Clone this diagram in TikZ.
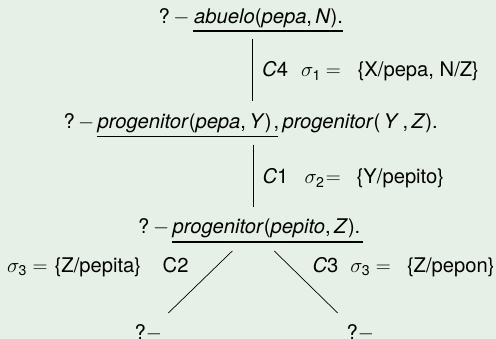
\documentclass[tikz,border=0pt]{standalone}
\usepackage{amsmath}
\usepackage{fontspec}
\setmainfont{TeX Gyre Heros}
\definecolor{bgc}{RGB}{230,240,230}
\begin{document}
\begin{tikzpicture}[x=1pt,y=-1pt,
  txt/.style={inner sep=0pt,anchor=base west,font=\fontsize{20.2}{24}\selectfont},
  eqs/.style={txt,anchor=base},
  uline/.style={line width=1.6pt},
  conn/.style={line width=0.8pt}]
\fill[bgc] (0,0) rectangle (496,339);
\useasboundingbox (0,0) rectangle (496,339);
% line 1
\node[txt] (p1) at (158.5,23.5) {?};
\node[eqs] (m1) at (181.5,23.5) {$-$};
\node[txt] (u1) at (194,23.5) {\textit{abuelo}(\textit{pepa},\,\textit{N}).};
\draw[uline] (192.7,31) coordinate (ul1) -- (342.7,31) coordinate (ur1);
% connector 1
\coordinate (a1) at (252.3,39);
\coordinate (b1) at (252.3,101);
\draw[conn] (a1) -- (b1);
\node[txt] (c4) at (262,77) {\textit{C}4};
\node[txt] (s4) at (301,77) {$\sigma_{\text{1}}$};
\node[eqs] (e4) at (333.3,77) {$=$};
\node[txt] (v4) at (357.5,77) {\{X/pepa, N/Z\}};
% line 2
\node[txt] (p2) at (63.5,128.3) {?};
\node[eqs] (m2) at (86.2,128.3) {$-$};
\node[txt] (u2) at (97.5,128.3) {\textit{progenitor}(\textit{pepa},\,\textit{Y})};
\node[txt] (s2) at ([xshift=1.5pt]u2.base east) {,\,\textit{progenitor}(\,\textit{Y}\,,\,\textit{Z}).};
\draw[uline] (97,136.7) coordinate (ul2) -- (278,136.7) coordinate (ur2);
% connector 2
\coordinate (a2) at (253.3,145);
\coordinate (b2) at (253.3,207);
\draw[conn] (a2) -- (b2);
\node[txt] (c1) at (262.3,184) {\textit{C}1};
\node[txt] (s1) at (304.3,184) {$\sigma_{\text{2}}$};
\node[eqs] (e1) at (333.3,184) {$=$};
\node[txt] (v1) at (356.5,184) {\{Y/pepito\}};
% line 3
\node[txt] (p3) at (137.8,234) {?};
\node[eqs] (m3) at (161.2,234) {$-$};
\node[txt] (u3) at (172.5,234) {\textit{progenitor}(\textit{pepito},\,\textit{Z}).};
\draw[uline] (171.7,242.3) coordinate (ul3) -- (363,242.3) coordinate (ur3);
% branches
\coordinate (a3) at (232.3,251);
\coordinate (b3) at (168.3,313);
\coordinate (a4) at (274.3,251);
\coordinate (b4) at (337.7,313);
\draw[conn,line width=0.7pt] (a3) -- (b3);
\draw[conn,line width=0.7pt] (a4) -- (b4);
\node[txt] (s3l) at (6.8,272.3) {$\sigma_{\text{3}}$};
\node[eqs] (e3l) at (40,272.3) {$=$};
\node[txt] (v3l) at (54.5,272.3) {\{Z/pepita\}};
\node[txt] (c2) at (162.5,272.3) {C2};
\node[txt] (c3) at (312.3,272.3) {\textit{C}3};
\node[txt] (s3r) at (350.2,272.3) {$\sigma_{\text{3}}$};
\node[eqs] (e3r) at (383.3,272.3) {$=$};
\node[txt] (v3r) at (406.8,272.3) {\{Z/pepon\}};
\node[txt] (q1) at (134.5,339.5) {?$-$};
\node[txt] (q2) at (346.5,339.5) {?$-$};
\end{tikzpicture}
\end{document}
